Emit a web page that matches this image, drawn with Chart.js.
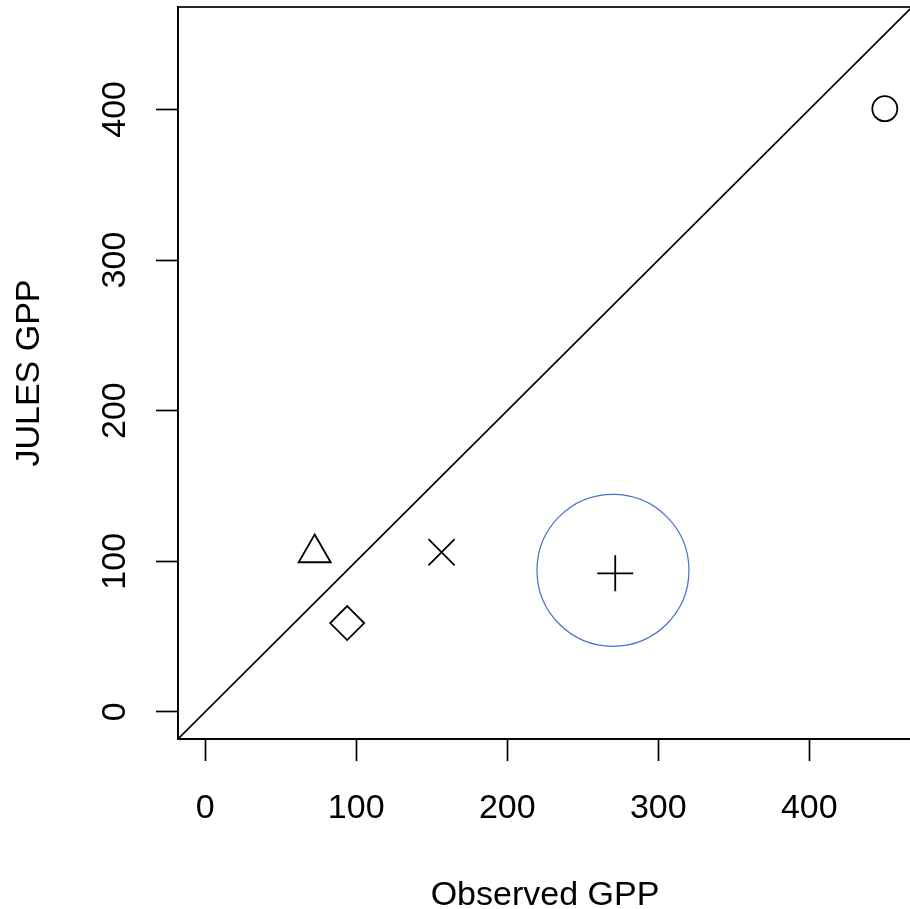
<!DOCTYPE html>
<html>
<head>
<meta charset="utf-8">
<script src="https://cdn.jsdelivr.net/npm/chart.js@4/dist/chart.umd.min.js"></script>
<style>
  html, body { margin: 0; padding: 0; background: #fff; overflow: hidden; }
  #wrap { width: 914px; height: 909px; }
</style>
</head>
<body>
<div id="wrap"><canvas id="gpp"></canvas></div>
<script>
// site values: observed vs modelled GPP
var observedGPP = [72.5, 94, 156.5, 271.5, 450];
var julesGPP = [105.5, 59, 106, 92, 400.5];
var siteSymbols = ['triangle', 'rectRot', 'crossRot', 'cross', 'circle'];
var symbolSizes = [18.5, 17, 18.5, 18, 12.5];

// highlighted site (ring around it)
var highlightX = [270];
var highlightY = [94];

// axis range and ticks
var axisMin = -18;
var axisMax = 468;
var tickValues = [0, 100, 200, 300, 400];

var FONT = "'Liberation Sans', Arial, sans-serif";

// box around the plotting region
var frame = {
    id: 'frame',
    afterDraw: function (chart) {
        var a = chart.chartArea, c = chart.ctx;
        c.save();
        c.strokeStyle = '#000';
        c.lineWidth = 1.7;
        c.strokeRect(a.left, a.top, a.right - a.left, a.bottom - a.top);
        c.restore();
    }
};

function setTicks(scale) {
    scale.ticks = tickValues.map(function (v) { return { value: v }; });
}

// fixed axis boxes, no extra label padding
function fixSize(prop, size) {
    return function (scale) {
        scale[prop] = size;
        scale.paddingTop = 0;
        scale.paddingBottom = 0;
        scale.paddingLeft = 0;
        scale.paddingRight = 0;
    };
}

var ctx = document.getElementById('gpp');
var myChart = new Chart(ctx, {
    type: 'scatter',
    data: {
        datasets: [{
            type: 'line',
            data: [{ x: axisMin, y: axisMin }, { x: axisMax, y: axisMax }],
            borderColor: '#000',
            borderWidth: 1.6,
            pointRadius: 0,
            fill: false
        }, {
            data: observedGPP.map(function (v, i) { return { x: v, y: julesGPP[i] }; }),
            pointStyle: siteSymbols,
            pointRadius: symbolSizes,
            borderColor: '#000',
            backgroundColor: 'rgba(0,0,0,0)',
            borderWidth: 1.8
        }, {
            data: highlightX.map(function (v, i) { return { x: v, y: highlightY[i] }; }),
            pointStyle: 'circle',
            pointRadius: 76,
            borderColor: '#4472C4',
            backgroundColor: 'rgba(0,0,0,0)',
            borderWidth: 1.2
        }]
    },
    options: {
        responsive: true,
        maintainAspectRatio: false,
        animation: false,
        events: [],
        layout: { autoPadding: false, padding: { top: 7, right: 2, left: 0, bottom: 0 } },
        plugins: { legend: { display: false }, tooltip: { enabled: false } },
        scales: {
            x: {
                type: 'linear',
                min: axisMin,
                max: axisMax,
                afterBuildTicks: setTicks,
                afterFit: fixSize('height', 170),
                grid: { drawOnChartArea: false, drawTicks: true, tickLength: 22, tickColor: '#000', tickWidth: 1.7 },
                border: { display: true, color: '#000', width: 1.7 },
                ticks: { color: '#000', padding: 27, font: { family: FONT, size: 34 } },
                title: {
                    display: true,
                    text: 'Observed GPP',
                    color: '#000',
                    padding: { top: 0, bottom: 0 },
                    font: { family: FONT, size: 34, lineHeight: 0.76 }
                }
            },
            y: {
                type: 'linear',
                min: axisMin,
                max: axisMax,
                afterBuildTicks: setTicks,
                afterFit: fixSize('width', 178),
                grid: { drawOnChartArea: false, drawTicks: true, tickLength: 22, tickColor: '#000', tickWidth: 1.7 },
                border: { display: true, color: '#000', width: 1.7 },
                ticks: {
                    color: '#000',
                    padding: 12,
                    minRotation: 90,
                    maxRotation: 90,
                    crossAlign: 'center',
                    font: { family: FONT, size: 34 }
                },
                title: {
                    display: true,
                    text: 'JULES GPP',
                    color: '#000',
                    padding: { top: 13, bottom: 0 },
                    font: { family: FONT, size: 34, lineHeight: 1 }
                }
            }
        }
    },
    plugins: [frame]
});
</script>
</body>
</html>
